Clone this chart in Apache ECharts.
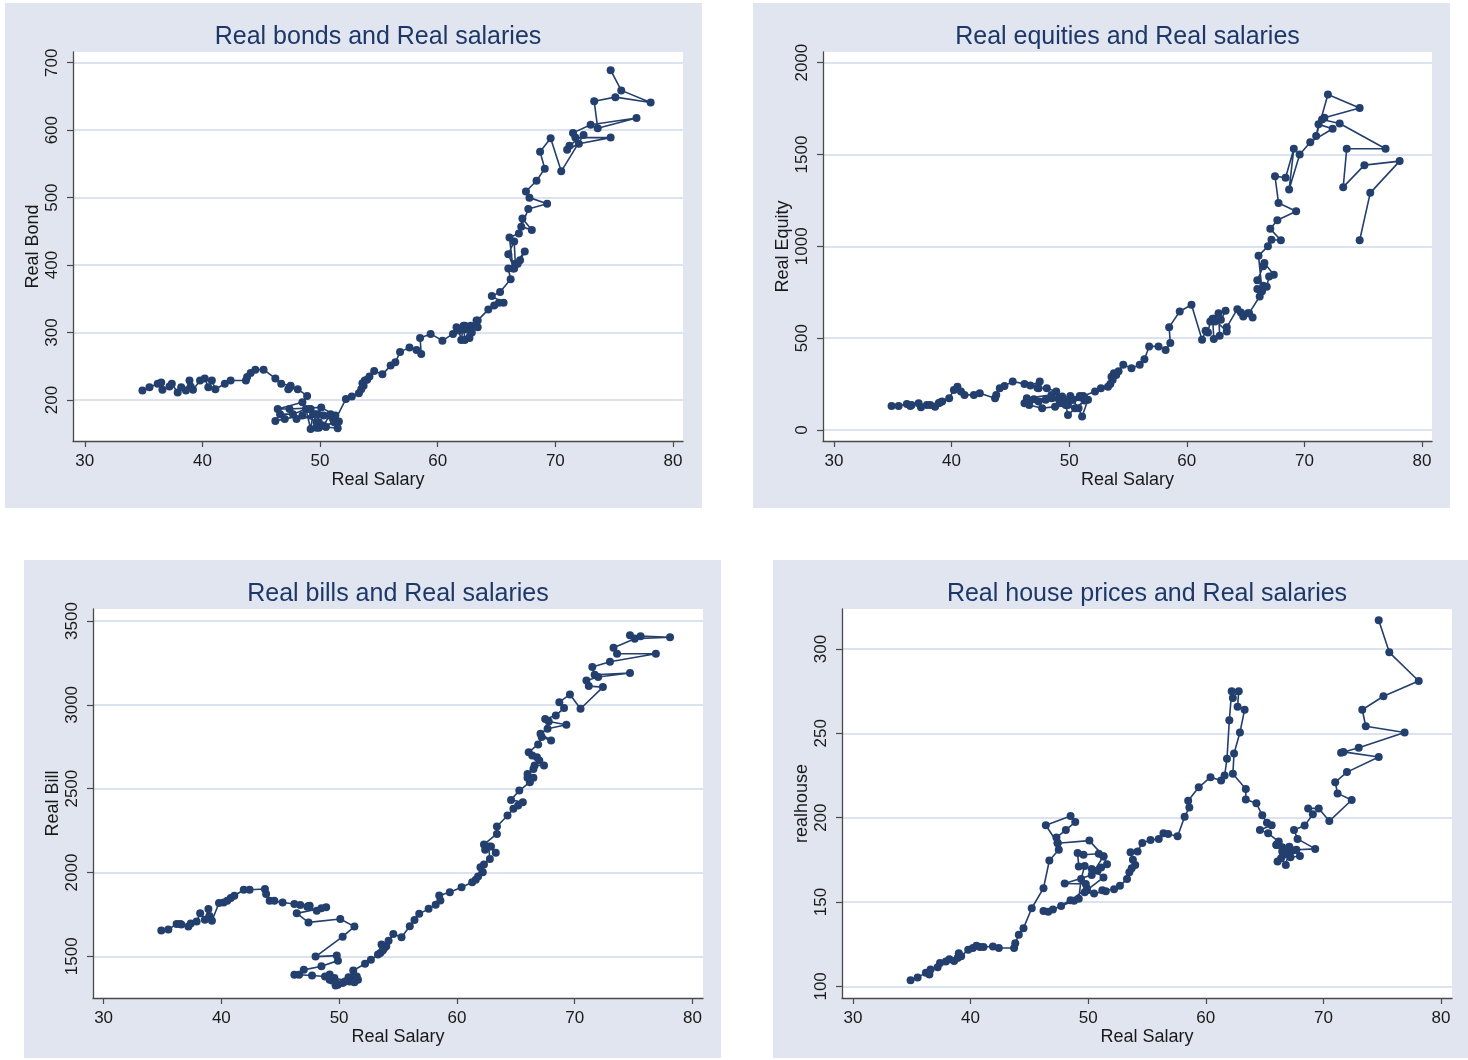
<!DOCTYPE html>
<html>
<head>
<meta charset="utf-8">
<title>Real assets and Real salaries</title>
<script src="https://cdn.jsdelivr.net/npm/echarts@6/dist/echarts.min.js"></script>
<style>
  html, body { margin: 0; padding: 0; background: #ffffff; }
  #chart { width: 1468px; height: 1060px; }
</style>
</head>
<body>
<div id="chart"></div>
<script>
// Shared time path: real salary, then one value array per panel (same order).
const salary = [
  34.9, 35.5, 36.2, 36.5, 36.6, 37.2, 37.4, 37.9, 38.2, 38.6,
  38.9, 39.0, 39.2, 39.8, 40.2, 40.5, 40.8, 41.1, 41.9, 42.4,
  43.7, 43.8, 44.1, 44.5, 45.2, 46.2, 46.7, 47.5, 47.4, 47.3,
  48.1, 48.9, 48.5,
  46.4, 47.4, 50.1, 51.3, 50.3, 48.0, 49.8, 49.9, 48.5, 47.0,
  46.2, 46.6, 47.7, 48.8, 49.2, 49.4, 49.7, 49.2, 49.1, 49.6,
  50.9, 51.3, 51.6, 51.1, 50.8, 50.3, 51.3, 49.9, 49.7, 50.5,
  51.5, 51.2,
  52.2, 52.7, 53.3, 53.5, 53.7, 54.0, 53.8, 53.6, 54.2, 54.6, 55.3, 56.0, 56.4,
  56.8, 57.6, 58.2, 58.6, 58.5, 59.4, 60.4, 61.3, 61.6, 61.8, 62.0, 62.2,
  62.3, 62.8, 62.7, 63.3, 62.9, 62.4, 62.3, 63.4, 63.4, 64.3, 64.8, 65.2,
  65.6, 64.6, 65.3, 66.2, 66.0, 66.5, 66.0, 66.5, 66.6, 67.4, 67.0,
  66.8, 66.4, 66.1, 66.9, 67.2, 68.0, 67.1, 67.7, 69.3, 67.8, 67.5,
  68.4, 69.1, 68.7, 69.6, 70.5, 72.4, 71.2, 71.0, 72.0, 74.7,
  71.7, 71.5, 73.0, 76.9, 73.6, 73.3, 75.1, 78.1, 75.6, 74.7
];

const realBond = [
  214, 219, 224, 226, 215, 220, 224, 211, 219, 214,
  229, 220, 215, 229, 232, 219, 229, 216, 224, 229,
  229, 234, 240, 245, 245, 232, 224, 221, 218, 216,
  216, 206, 196.5,
  186.6, 186.6, 189, 177, 177, 172, 179, 167, 177, 172,
  169, 179, 179, 186.6, 157, 179, 167, 186.6, 186.6, 179,
  179, 167, 168, 172, 177, 162, 167, 159, 159, 160,
  158, 167,
  201.5, 205, 210, 216, 221, 230, 229, 225, 235, 243, 238, 251, 256,
  271, 278, 274, 268, 292, 298, 288, 298, 308, 303, 289, 310,
  289, 310, 292, 318, 300, 305, 310, 308, 318, 334, 340, 344,
  344, 354, 360, 379, 395, 395, 416, 435, 402, 420, 407,
  402, 395, 441, 447, 469, 452, 457, 483, 491, 500, 509,
  525, 543, 568, 588, 539, 593, 577, 571, 580, 589,
  589, 596, 608, 618, 603, 643, 649, 641, 659, 689
];

const realEquity = [
  131, 131, 142, 131, 136, 145, 124, 136, 136, 127,
  145, 150, 155, 173, 218, 236, 209, 191, 191, 200,
  173, 191, 227, 240, 264, 251, 242, 264, 227, 230,
  227, 209, 191,
  173, 155, 185, 173, 164, 164, 155, 136, 173, 167,
  145, 136, 118, 127, 145, 182, 155, 173, 173, 155,
  185, 173, 164, 73, 118, 164, 160, 82, 136, 118,
  164, 185,
  209, 227, 236, 250, 273, 300, 309, 290, 320, 355, 336, 355, 385,
  455, 455, 436, 473, 560, 645, 682, 491, 540, 531, 591, 605,
  495, 513, 636, 649, 600, 591, 605, 536, 560, 658, 618, 636,
  613, 640, 636, 727, 767, 785, 815, 891, 909, 845, 836,
  780, 755, 949, 1000, 1036, 1033, 1095, 1142, 1191, 1236, 1382,
  1373, 1531, 1309, 1500, 1567, 1640, 1664, 1600, 1827, 1753,
  1700, 1690, 1669, 1531, 1531, 1322, 1442, 1464, 1291, 1033
];

const realBill = [
  1653, 1659, 1693, 1693, 1690, 1677, 1696, 1708, 1756, 1718,
  1782, 1740, 1712, 1818, 1821, 1831, 1847, 1861, 1897, 1897,
  1901, 1871, 1831, 1831, 1821, 1812, 1806, 1802, 1800, 1795,
  1772, 1792, 1786,
  1756, 1702, 1722, 1677, 1617, 1498, 1504, 1474, 1440, 1419,
  1389, 1390, 1385, 1379, 1391, 1355, 1326, 1360, 1380, 1370,
  1350, 1345, 1360, 1375, 1375, 1340, 1355, 1330, 1345, 1350,
  1379, 1415,
  1455, 1479, 1510, 1520, 1534, 1560, 1545, 1570, 1593, 1633, 1613, 1679, 1717,
  1753, 1783, 1808, 1832, 1862, 1882, 1912, 1942, 1956, 1976, 2031, 2001,
  2047, 2081, 2155, 2117, 2155, 2135, 2167, 2230, 2274, 2340, 2380, 2400,
  2419, 2433, 2489, 2539, 2565, 2565, 2588, 2618, 2638, 2638, 2668,
  2688, 2698, 2718, 2764, 2808, 2788, 2828, 2858, 2881, 2901, 2915,
  2937, 2981, 3016, 3062, 2977, 3106, 3112, 3146, 3166, 3190,
  3180, 3226, 3257, 3305, 3305, 3341, 3395, 3403, 3410, 3416
];

const realHouse = [
  103.6, 105.3, 108, 107, 110, 111.4, 113.8, 114.8, 116, 115,
  116.8, 119.7, 117.8, 121.7, 122.7, 124, 123.3, 123.3, 123.7, 122.7,
  122.7, 125.6, 130.6, 134.5, 146.3, 158.2, 174.6, 181, 185.2, 188.2,
  192.7, 197.4, 201,
  195.5, 184.8, 186.4, 177.2, 166, 161, 160.7, 158, 151, 145.5,
  144.7, 144.2, 147.7, 150.7, 152, 163.6, 171.4, 171, 179, 178,
  178.6, 177, 172.4, 170.4, 168.5, 169.5, 164.6, 157, 155.8, 155,
  156.4, 157,
  157.6, 159.6, 163.7, 167.7, 170, 172, 175, 179.5, 180, 185, 186.8, 187.4, 190.7,
  190.3, 189, 200.6, 206, 210, 218, 224, 222, 225, 235, 257.8, 275,
  271, 275, 265.7, 264, 250.5, 238, 226, 217, 210.8, 208.5, 201.4, 197,
  195.5, 192.7, 190.7, 185.8, 183.8, 182.4, 184, 180, 178, 180.5, 178.5,
  172, 176, 174, 179, 176.5, 177.3, 182.8, 181, 181.5, 187.4, 192.7,
  195.3, 202, 205.5, 205.5, 198, 210.5, 214.4, 221, 227, 236,
  239, 238.5, 241.4, 250.5, 254.2, 264, 272, 281, 298, 317
];

const salaryTicks = [30, 40, 50, 60, 70, 80];
const bondTicks = [200, 300, 400, 500, 600, 700];
const equityTicks = [0, 500, 1000, 1500, 2000];
const billTicks = [1500, 2000, 2500, 3000, 3500];
const houseTicks = [100, 150, 200, 250, 300];

const FONT = "'Liberation Sans', Arial, sans-serif";
const NAVY = "#233f6e";
const TITLE_COLOR = "#1d3868";
const PANEL_BG = "#e0e5ef";
const AXIS_COLOR = "#4a4a4a";

const panels = [
  { title: "Real bonds and Real salaries", yName: "Real Bond", y: realBond, yTicks: bondTicks,
    bg: [5, 3, 697, 505], grid: [73, 52, 610, 389], x: [29.0, 80.85], yr: [139.2, 715.9] },
  { title: "Real equities and Real salaries", yName: "Real Equity", y: realEquity, yTicks: equityTicks,
    bg: [753, 3, 697, 505], grid: [823, 52, 609, 389], x: [29.07, 80.85], yr: [-60, 2058] },
  { title: "Real bills and Real salaries", yName: "Real Bill", y: realBill, yTicks: billTicks,
    bg: [24, 560, 697, 498], grid: [93, 609, 610, 389], x: [29.1, 80.9], yr: [1251, 3572] },
  { title: "Real house prices and Real salaries", yName: "realhouse", y: realHouse, yTicks: houseTicks,
    bg: [773, 560, 695, 498], grid: [842, 609, 610, 389], x: [29.07, 80.93], yr: [93.1, 323.7] }
];

const plainNumber = (v) => String(Math.round(v));

const chart = echarts.init(document.getElementById("chart"), null, { renderer: "canvas" });

const option = {
  animation: false,
  backgroundColor: "#ffffff",
  textStyle: { fontFamily: FONT },
  graphic: panels.map((p) => ({
    type: "rect",
    z: -10,
    silent: true,
    shape: { x: p.bg[0], y: p.bg[1], width: p.bg[2], height: p.bg[3] },
    style: { fill: PANEL_BG }
  })),
  title: panels.map((p) => ({
    text: p.title,
    left: p.grid[0] + p.grid[2] / 2,
    top: p.grid[1] - 27,
    textAlign: "center",
    padding: 0,
    textStyle: { color: TITLE_COLOR, fontSize: 25, fontWeight: "normal", fontFamily: FONT }
  })),
  grid: panels.map((p) => ({
    left: p.grid[0],
    top: p.grid[1],
    width: p.grid[2],
    height: p.grid[3],
    show: true,
    backgroundColor: "#ffffff",
    borderWidth: 0,
    containLabel: false
  })),
  xAxis: panels.map((p, i) => ({
    type: "value",
    gridIndex: i,
    min: p.x[0],
    max: p.x[1],
    name: "Real Salary",
    nameLocation: "middle",
    nameGap: 29,
    nameTextStyle: { color: "#1a1a1a", fontSize: 18, fontFamily: FONT },
    axisLine: { show: true, onZero: false, lineStyle: { color: AXIS_COLOR, width: 1.3 } },
    axisTick: { show: true, length: 6, customValues: salaryTicks, lineStyle: { color: AXIS_COLOR, width: 1.2 } },
    axisLabel: { customValues: salaryTicks, formatter: plainNumber, margin: 12, color: "#1a1a1a", fontSize: 17, fontFamily: FONT },
    splitLine: { show: false }
  })),
  yAxis: panels.map((p, i) => ({
    type: "value",
    gridIndex: i,
    min: p.yr[0],
    max: p.yr[1],
    name: p.yName,
    nameLocation: "middle",
    nameGap: 31,
    nameRotate: 90,
    nameTextStyle: { color: "#1a1a1a", fontSize: 18, fontFamily: FONT },
    axisLine: { show: true, onZero: false, lineStyle: { color: AXIS_COLOR, width: 1.3 } },
    axisTick: { show: true, length: 6, customValues: p.yTicks, lineStyle: { color: AXIS_COLOR, width: 1.2 } },
    axisLabel: { customValues: p.yTicks, formatter: plainNumber, rotate: 90, margin: 12, color: "#1a1a1a", fontSize: 17, fontFamily: FONT },
    splitLine: { show: true, lineStyle: { color: "#dde3ee", width: 1.8 } }
  })),
  series: panels.map((p, i) => ({
    type: "line",
    xAxisIndex: i,
    yAxisIndex: i,
    data: salary.map((s, k) => [s, p.y[k]]),
    symbol: "circle",
    symbolSize: 8,
    showSymbol: true,
    showAllSymbol: true,
    clip: false,
    lineStyle: { color: NAVY, width: 1.6 },
    itemStyle: { color: NAVY, borderWidth: 0 },
    emphasis: { disabled: true }
  }))
};

chart.setOption(option);
</script>
</body>
</html>
